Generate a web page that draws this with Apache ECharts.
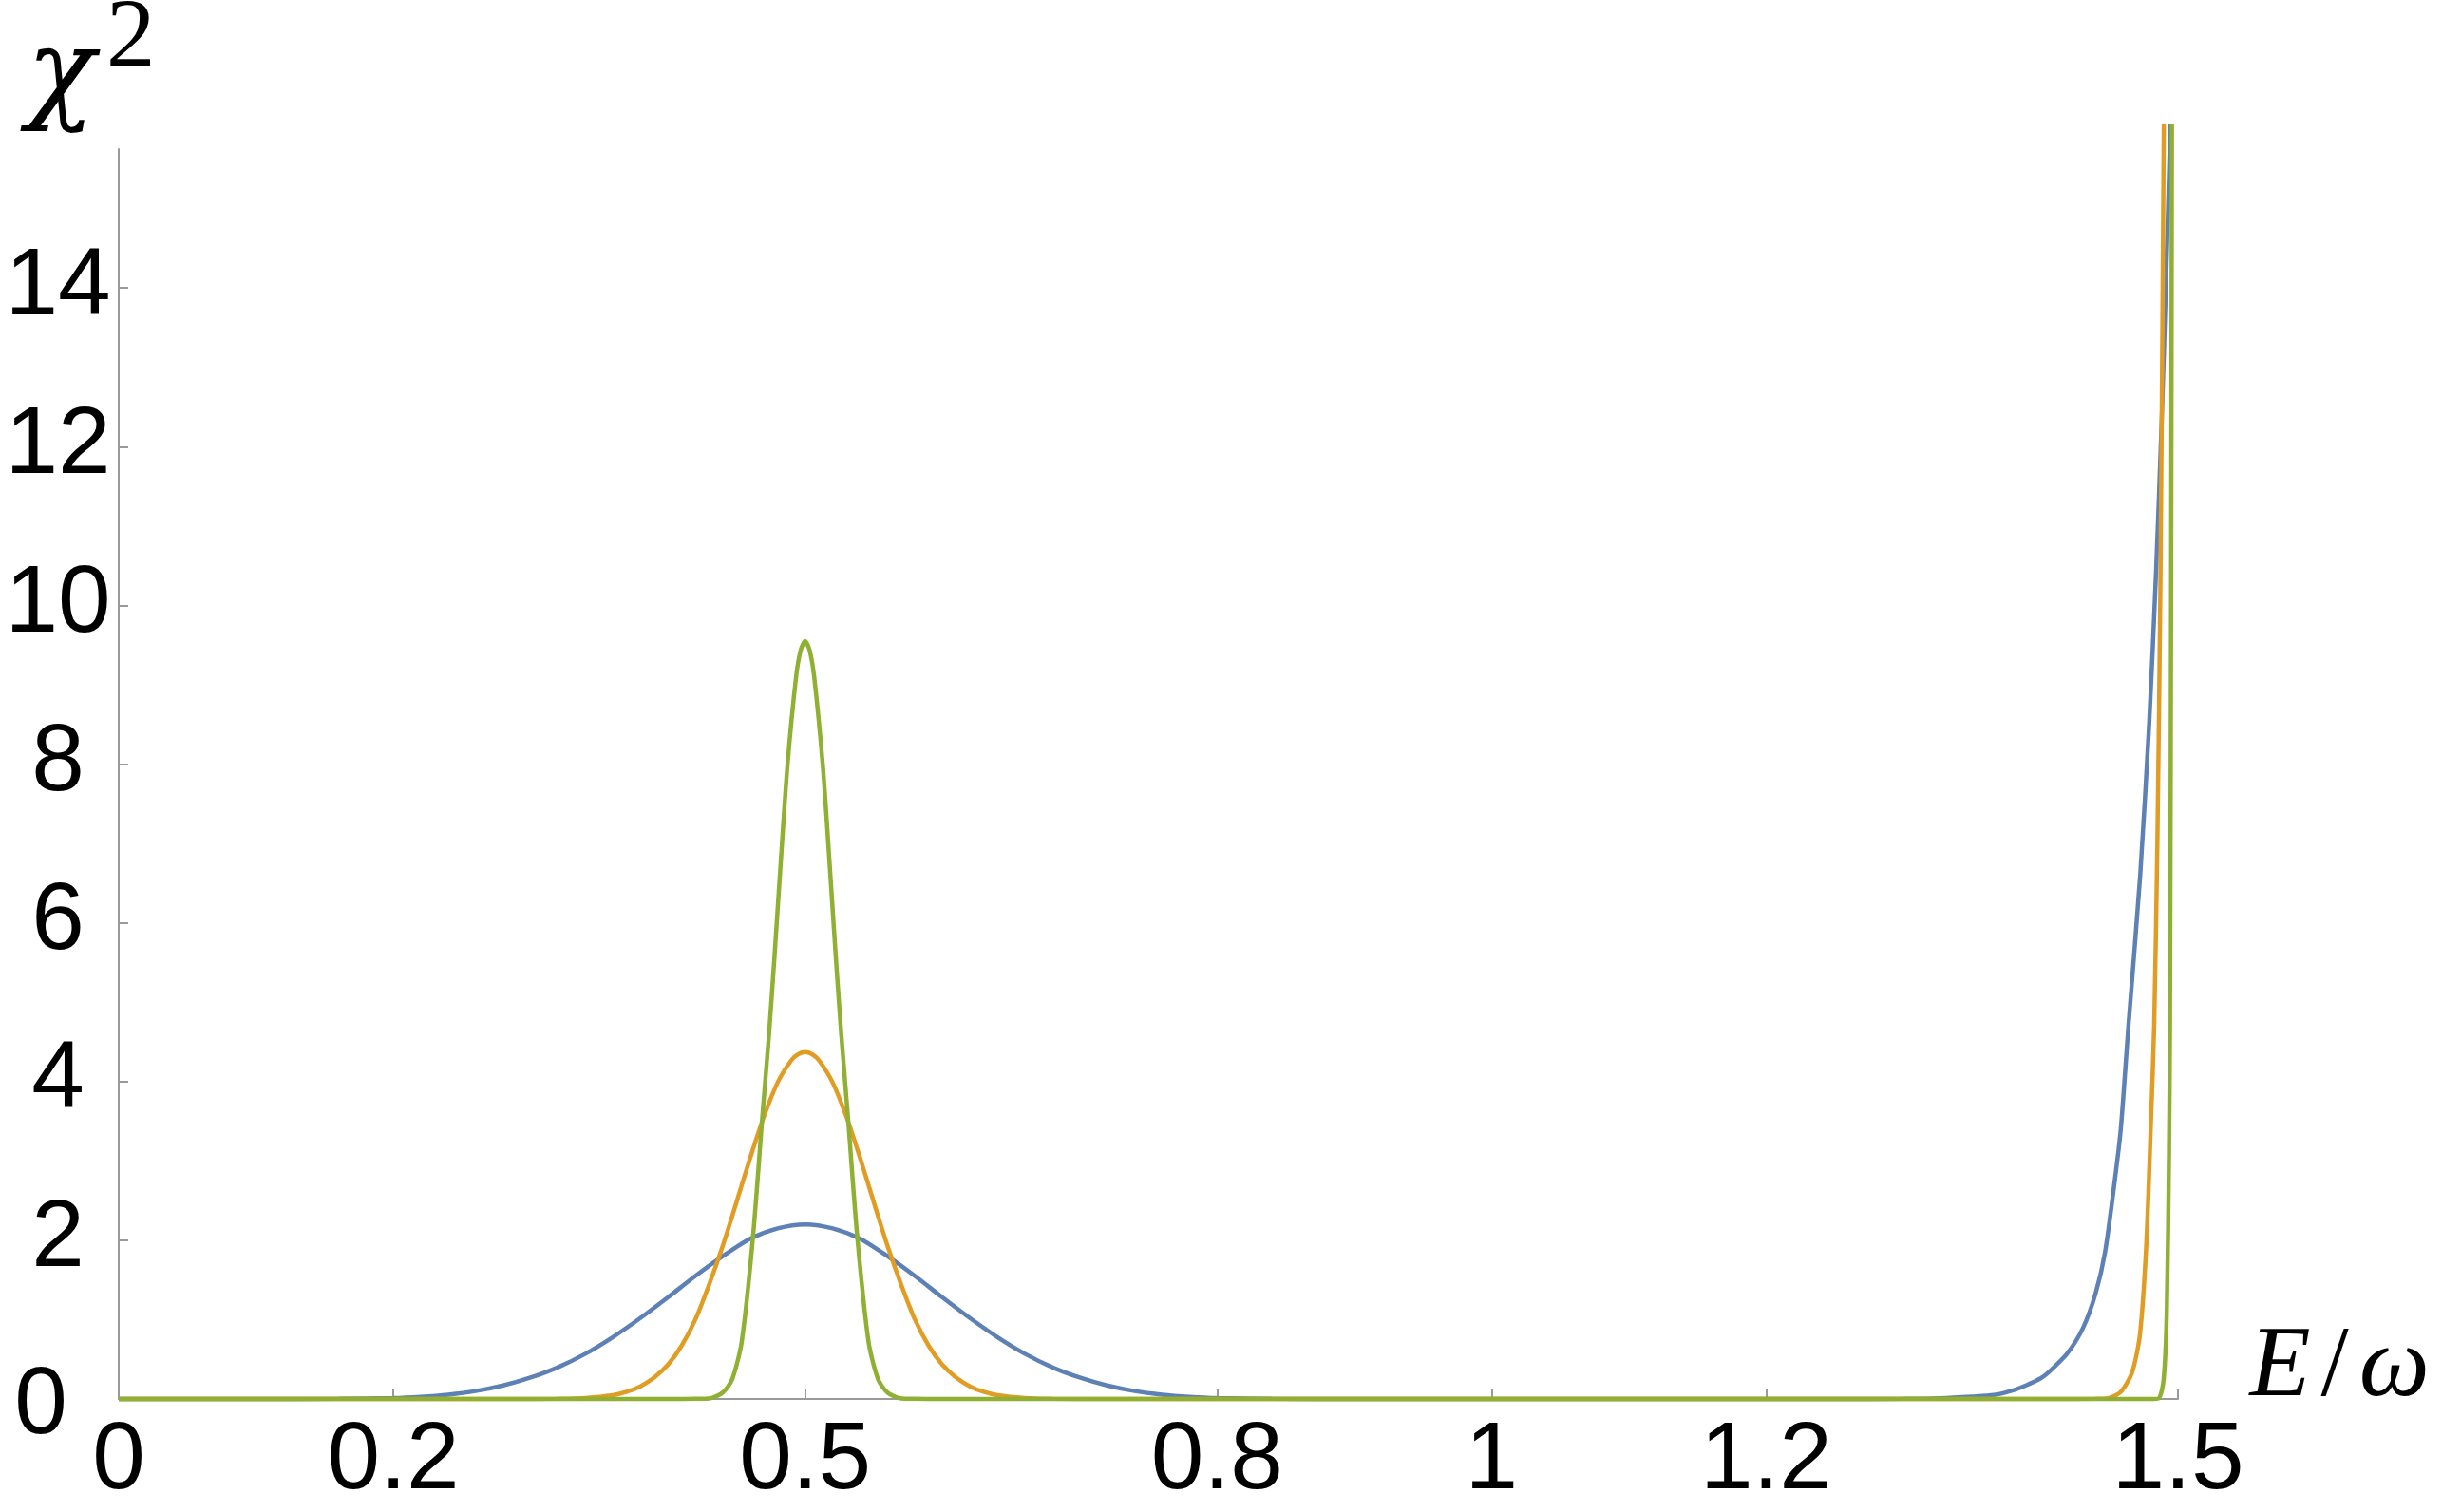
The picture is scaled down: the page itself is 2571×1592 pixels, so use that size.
<!DOCTYPE html>
<html>
<head>
<meta charset="utf-8">
<script src="https://cdn.jsdelivr.net/npm/echarts@6/dist/echarts.min.js"></script>
<style>html,body{margin:0;padding:0;background:#fff}#c{width:2571px;height:1592px}</style>
</head>
<body>
<div id="c"></div>
<script>
// ---- data ----
const blueX = [0, 0.10, 0.16, 0.20, 0.22, 0.24, 0.26, 0.28, 0.30, 0.32, 0.34, 0.36, 0.38, 0.40, 0.42, 0.44, 0.46, 0.48, 0.50,
  0.52, 0.54, 0.56, 0.58, 0.60, 0.62, 0.64, 0.66, 0.68, 0.70, 0.72, 0.74, 0.76, 0.78, 0.80, 0.84, 0.90, 1.25,
  1.30, 1.327, 1.35, 1.366, 1.38, 1.3892, 1.40, 1.4054, 1.4192, 1.4307, 1.44, 1.4469, 1.4538, 1.4584, 1.4640,
  1.4725, 1.4790, 1.4840, 1.4883, 1.4915, 1.4945];
const blueY = [0, 0, 0.002, 0.012, 0.028, 0.055, 0.10, 0.17, 0.27, 0.40, 0.57, 0.78, 1.02, 1.28, 1.55, 1.80, 2.02, 2.15, 2.20,
  2.15, 2.02, 1.80, 1.55, 1.28, 1.02, 0.78, 0.57, 0.40, 0.27, 0.17, 0.10, 0.055, 0.028, 0.012, 0.002, 0, 0,
  0.002, 0.01, 0.03, 0.05, 0.11, 0.17, 0.26, 0.33, 0.57, 0.89, 1.33, 1.85, 2.73, 3.41, 4.72,
  6.6, 8.5, 10.4, 12.4, 14.2, 16.06];

const orangeX = [0, 0.28, 0.32, 0.34, 0.36, 0.37, 0.38, 0.39, 0.40, 0.41, 0.42, 0.43, 0.44, 0.45, 0.46, 0.47, 0.48, 0.49, 0.495, 0.50,
  0.505, 0.51, 0.52, 0.53, 0.54, 0.55, 0.56, 0.57, 0.58, 0.59, 0.60, 0.61, 0.62, 0.63, 0.64, 0.66, 0.68, 0.72, 1.40,
  1.44, 1.4492, 1.4584, 1.4665, 1.4723, 1.4769, 1.4804, 1.4827, 1.4850, 1.4873, 1.4897];
const orangeY = [0, 0, 0.002, 0.012, 0.047, 0.09, 0.16, 0.27, 0.43, 0.67, 1.0, 1.44, 1.93, 2.48, 3.04, 3.56, 3.99, 4.27, 4.345, 4.37,
  4.345, 4.27, 3.99, 3.56, 3.04, 2.48, 1.93, 1.44, 1.0, 0.67, 0.43, 0.27, 0.16, 0.09, 0.047, 0.012, 0.002, 0, 0,
  0.002, 0.01, 0.09, 0.33, 0.81, 1.93, 3.53, 4.72, 7.0, 10.4, 16.06];

const greenX = [0, 0.40, 0.42, 0.431, 0.44, 0.4469, 0.4538, 0.462, 0.4688, 0.4737, 0.4777, 0.4823, 0.4871, 0.4934, 0.4968, 0.50,
  0.5032, 0.5066, 0.5129, 0.5177, 0.5223, 0.5263, 0.5312, 0.538, 0.5462, 0.5531, 0.56, 0.569, 0.58, 0.60, 1.48,
  1.4861, 1.4896, 1.4919, 1.4935, 1.4942, 1.4950, 1.4956];
const greenY = [0, 0, 0.002, 0.01, 0.08, 0.25, 0.72, 2.04, 3.55, 4.6, 5.58, 6.78, 7.98, 9.1, 9.44, 9.55,
  9.44, 9.1, 7.98, 6.78, 5.58, 4.6, 3.55, 2.04, 0.72, 0.25, 0.08, 0.01, 0.002, 0, 0,
  0.01, 0.25, 1.13, 3.13, 4.72, 10, 16.06];

const xTickValues = [0.2, 0.5, 0.8, 1, 1.2, 1.5];
const xLabelValues = [0, 0.2, 0.5, 0.8, 1, 1.2, 1.5];
const yTickValues = [2, 4, 6, 8, 10, 12, 14];
const yLabelValues = [0, 2, 4, 6, 8, 10, 12, 14];

const colors = ['#5E81B5', '#E19C24', '#8FB032'];

function zip(xs, ys) { return xs.map((x, i) => [x, ys[i]]); }

const chart = echarts.init(document.getElementById('c'), null, { renderer: 'canvas' });
const axisColor = '#9a9a9a';
const serif = 'Liberation Serif';

function lineSeries(xs, ys, color) {
  return {
    type: 'line',
    data: zip(xs, ys),
    showSymbol: false,
    clip: false,
    smooth: 0.25,
    lineStyle: { color: color, width: 4.5 },
    itemStyle: { color: color },
    silent: true
  };
}

chart.setOption({
  animation: false,
  backgroundColor: '#ffffff',
  grid: { left: 125, right: 278, top: 157, bottom: 119, outerBoundsMode: 'none' },
  xAxis: {
    type: 'value', min: 0, max: 1.5,
    axisLine: { lineStyle: { color: axisColor, width: 2 } },
    axisTick: { inside: true, length: 10, customValues: xTickValues, lineStyle: { color: axisColor, width: 2 } },
    axisLabel: { customValues: xLabelValues, fontSize: 100, color: '#000', fontFamily: 'Liberation Sans', margin: 16 },
    splitLine: { show: false },
    name: '{i|E}{n|/}{i|ω}',
    nameLocation: 'end',
    nameGap: 72,
    nameTextStyle: {
      align: 'left', verticalAlign: 'middle', padding: [0, 0, 64, 0],
      rich: {
        i: { fontFamily: serif, fontStyle: 'italic', fontSize: 105, color: '#000' },
        n: { fontFamily: serif, fontSize: 105, color: '#000', padding: [0, 11, 0, 11] }
      }
    }
  },
  yAxis: {
    type: 'value', min: 0, max: 15.75,
    axisLine: { lineStyle: { color: axisColor, width: 2 } },
    axisTick: { inside: true, length: 10, customValues: yTickValues, lineStyle: { color: axisColor, width: 2 } },
    axisLabel: {
      customValues: yLabelValues, fontSize: 100, color: '#000', fontFamily: 'Liberation Sans',
      margin: 64, align: 'center',
      formatter: function (v) { return v === 0 ? '{z|0}' : String(v); },
      rich: { z: { fontSize: 100, color: '#000', fontFamily: 'Liberation Sans', padding: [16, 36, 0, 0] } }
    },
    splitLine: { show: false },
    name: '{c|χ}{s|2}',
    nameLocation: 'end',
    nameGap: 16,
    nameTextStyle: {
      align: 'center', verticalAlign: 'bottom', padding: [0, 58, 0, 0],
      rich: {
        c: { fontFamily: 'DejaVu Serif', fontStyle: 'italic', fontSize: 118, color: '#000', lineHeight: 150, verticalAlign: 'bottom' },
        s: { fontFamily: serif, fontSize: 104, color: '#000', lineHeight: 104, verticalAlign: 'top', padding: [0, 0, 0, 12] }
      }
    }
  },
  series: [
    lineSeries(blueX, blueY, colors[0]),
    lineSeries(orangeX, orangeY, colors[1]),
    lineSeries(greenX, greenY, colors[2])
  ]
});
</script>
</body>
</html>
